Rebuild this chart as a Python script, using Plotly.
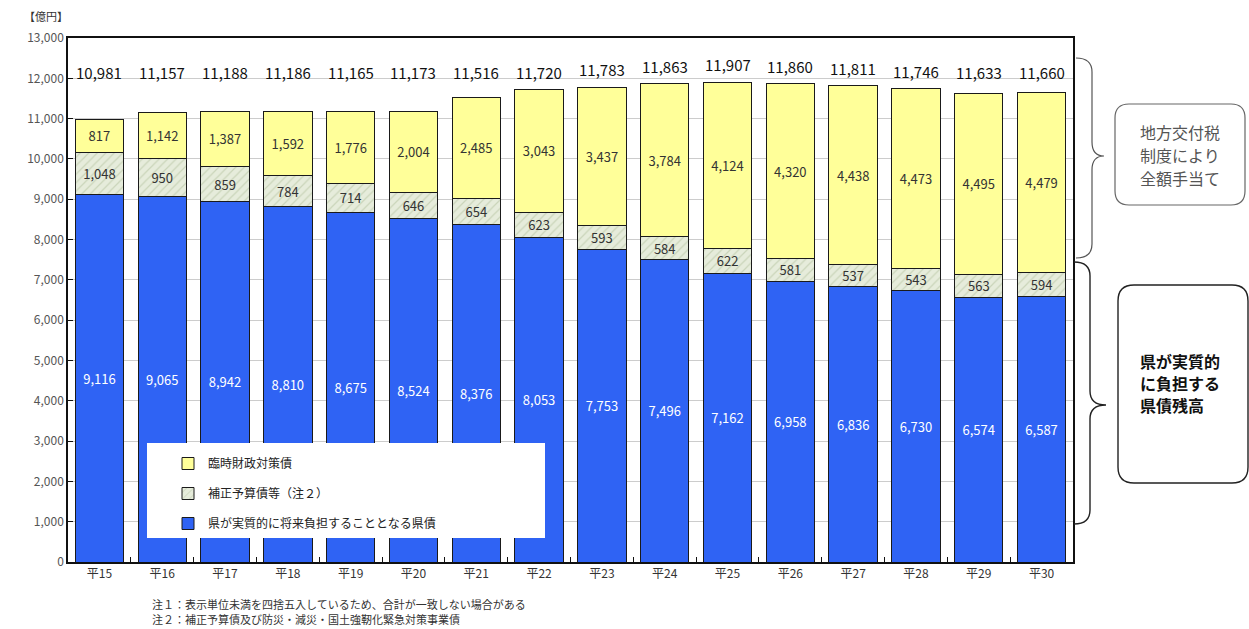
import plotly.graph_objects as go

# ---------------- data ----------------
years = ["平15", "平16", "平17", "平18", "平19", "平20", "平21", "平22",
         "平23", "平24", "平25", "平26", "平27", "平28", "平29", "平30"]
burden = [9116, 9065, 8942, 8810, 8675, 8524, 8376, 8053,
          7753, 7496, 7162, 6958, 6836, 6730, 6574, 6587]
supplementary = [1048, 950, 859, 784, 714, 646, 654, 623,
                 593, 584, 622, 581, 537, 543, 563, 594]
temporary = [817, 1142, 1387, 1592, 1776, 2004, 2485, 3043,
             3437, 3784, 4124, 4320, 4438, 4473, 4495, 4479]
totals = [10981, 11157, 11188, 11186, 11165, 11173, 11516, 11720,
          11783, 11863, 11907, 11860, 11811, 11746, 11633, 11660]

names = ["県が実質的に将来負担することとなる県債", "補正予算債等（注２）", "臨時財政対策債"]
y_ticks = list(range(0, 13001, 1000))
box1_lines = ["地方交付税", "制度により", "全額手当て"]
box2_lines = ["県が実質的", "に負担する", "県債残高"]

# ---------------- layout helpers ----------------
W, H = 1249, 629
PL, PR, PT, PB = 68, 1073, 38, 562


def px(x):
    return (x - PL) / (PR - PL)


def py(y):
    return (PB - y) / (PB - PT)


FONT = "Noto Sans CJK JP"

fig = go.Figure()

fig.add_trace(go.Bar(
    x=years, y=burden, name=names[0], legendgroup="a", legendrank=3,
    marker=dict(color="#2f63f4", line=dict(color="#1a1a1a", width=1)),
    text=[f"{v:,}" for v in burden], textposition="inside",
    insidetextanchor="middle", textangle=0,
    textfont=dict(color="white", size=13, family=FONT),
))
fig.add_trace(go.Bar(
    x=years, y=supplementary, name=names[1], legendgroup="b", legendrank=2,
    marker=dict(color="#e6ecdb", line=dict(color="#1a1a1a", width=1),
                pattern=dict(shape="/", fgcolor="#aebd98", bgcolor="#e6ecdb",
                             size=6, solidity=0.2)),
    text=[f"{v:,}" for v in supplementary], textposition="inside",
    insidetextanchor="middle", textangle=0,
    textfont=dict(color="#333333", size=13, family=FONT),
))
fig.add_trace(go.Bar(
    x=years, y=temporary, name=names[2], legendgroup="c", legendrank=1,
    marker=dict(color="#ffff99", line=dict(color="#1a1a1a", width=1)),
    text=[f"{v:,}" for v in temporary], textposition="inside",
    insidetextanchor="middle", textangle=0,
    textfont=dict(color="#333333", size=13, family=FONT),
))

annotations = []
for yr, t in zip(years, totals):
    annotations.append(dict(
        x=yr, y=max(t + 430, 12150), xref="x", yref="y", text=f"{t:,}",
        showarrow=False, yanchor="middle",
        font=dict(size=15, color="#111111", family=FONT)))

annotations += [
    dict(x=px(22), y=py(16), xref="paper", yref="paper", text="【億円】",
         showarrow=False, xanchor="left", yanchor="middle",
         font=dict(size=11, color="#333333", family=FONT)),
    dict(x=px(150), y=py(604), xref="paper", yref="paper",
         text="注１：表示単位未満を四捨五入しているため、合計が一致しない場合がある",
         showarrow=False, xanchor="left", yanchor="middle",
         font=dict(size=11, color="#333333", family=FONT)),
    dict(x=px(150), y=py(619), xref="paper", yref="paper",
         text="注２：補正予算債及び防災・減災・国土強靭化緊急対策事業債",
         showarrow=False, xanchor="left", yanchor="middle",
         font=dict(size=11, color="#333333", family=FONT)),
]
for i, line in enumerate(box1_lines):
    annotations.append(dict(
        x=px(1180), y=py(132 + 23 * i), xref="paper", yref="paper", text=line,
        showarrow=False, xanchor="center", yanchor="middle",
        font=dict(size=16, color="#555555", family=FONT)))
for i, line in enumerate(box2_lines):
    annotations.append(dict(
        x=px(1138), y=py(361 + 22 * i), xref="paper", yref="paper",
        text=f"<b>{line}</b>",
        showarrow=False, xanchor="left", yanchor="middle",
        font=dict(size=16, color="#111111", family=FONT)))


def brace(x0, xm, xt, ytop, ytip, ybot, r=14):
    pts = [
        f"M{px(x0)},{py(ytop)}",
        f"Q{px(xm)},{py(ytop)} {px(xm)},{py(ytop + r)}",
        f"L{px(xm)},{py(ytip - r)}",
        f"Q{px(xm)},{py(ytip)} {px(xt)},{py(ytip)}",
        f"Q{px(xm)},{py(ytip)} {px(xm)},{py(ytip + r)}",
        f"L{px(xm)},{py(ybot - r)}",
        f"Q{px(xm)},{py(ybot)} {px(x0)},{py(ybot)}",
    ]
    return " ".join(pts)


def rbox(x0, y0, x1, y1, r=14):
    return " ".join([
        f"M{px(x0 + r)},{py(y0)}",
        f"L{px(x1 - r)},{py(y0)}",
        f"Q{px(x1)},{py(y0)} {px(x1)},{py(y0 + r)}",
        f"L{px(x1)},{py(y1 - r)}",
        f"Q{px(x1)},{py(y1)} {px(x1 - r)},{py(y1)}",
        f"L{px(x0 + r)},{py(y1)}",
        f"Q{px(x0)},{py(y1)} {px(x0)},{py(y1 - r)}",
        f"L{px(x0)},{py(y0 + r)}",
        f"Q{px(x0)},{py(y0)} {px(x0 + r)},{py(y0)}",
        "Z",
    ])


shapes = [
    dict(type="rect", xref="paper", yref="paper",
         x0=px(147), x1=px(545), y0=py(538), y1=py(443),
         fillcolor="white", line=dict(width=0), layer="above"),
    dict(type="path", xref="paper", yref="paper",
         path=brace(1076, 1092, 1104, 58, 156, 258),
         line=dict(color="#555555", width=1.2)),
    dict(type="path", xref="paper", yref="paper",
         path=brace(1074, 1090, 1106, 262, 405, 524),
         line=dict(color="#222222", width=1.4)),
    dict(type="path", xref="paper", yref="paper",
         path=rbox(1115, 104, 1245, 205, 14),
         line=dict(color="#666666", width=1.2)),
    dict(type="path", xref="paper", yref="paper",
         path=rbox(1118, 285, 1248, 483, 16),
         line=dict(color="#222222", width=1.4)),
]

fig.update_layout(
    width=W, height=H, autosize=False,
    margin=dict(l=PL, r=W - PR, t=PT, b=H - PB),
    barmode="stack", bargap=0.23,
    paper_bgcolor="white", plot_bgcolor="white",
    font=dict(family=FONT, size=12, color="#333333"),
    uniformtext=dict(minsize=13, mode="show"),
    showlegend=True,
    legend=dict(x=px(168), y=py(449), xanchor="left", yanchor="top",
                bgcolor="rgba(0,0,0,0)", traceorder="grouped",
                tracegroupgap=11, itemwidth=30,
                font=dict(size=12, color="#222222", family=FONT)),
    annotations=annotations,
    shapes=shapes,
    xaxis=dict(type="category", showgrid=False, showline=True, linecolor="#111111",
               linewidth=1.5, mirror=True, ticks="inside", tickson="boundaries",
               ticklen=5, tickcolor="#111111",
               tickfont=dict(size=12, color="#333333", family=FONT)),
    yaxis=dict(range=[0, 13000], tickvals=y_ticks, tickformat=",",
               showgrid=True, gridcolor="#cccccc", gridwidth=1,
               showline=True, linecolor="#111111", linewidth=1.5, mirror=True,
               ticks="inside", ticklen=5, tickcolor="#111111", zeroline=False,
               tickfont=dict(size=12, color="#555555", family=FONT)),
)

fig.write_html("out.html", config={"displayModeBar": False},
               post_script="document.body.style.margin='0';document.body.style.padding='0';")
